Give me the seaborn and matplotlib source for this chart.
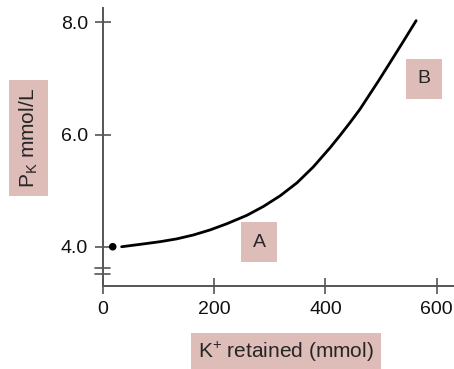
import matplotlib
matplotlib.use("Agg")
import matplotlib.pyplot as plt
import seaborn as sns
import pandas as pd

# values
k_retained = [34, 73, 103, 133, 163, 193, 223, 259, 289, 319, 349, 378,
              408, 426, 444, 462, 495, 516, 540, 563]
p_k = [4.00, 4.05, 4.09, 4.14, 4.21, 4.30, 4.41, 4.56, 4.72, 4.91, 5.14, 5.42,
       5.76, 5.98, 6.21, 6.45, 6.95, 7.28, 7.66, 8.03]
start_x = [18]
start_y = [4.0]
x_ticks = [0, 200, 400, 600]
y_ticks = [4.0, 6.0, 8.0]
y_tick_labels = ["4.0", "6.0", "8.0"]
break_y = [3.615, 3.513]
region_labels = ["A", "B"]
region_x = [281, 577]
region_y = [4.08, 6.99]

pink = "#DEBCB8"
axis_grey = "#555555"

sns.set_style("ticks")
plt.rcParams['font.family'] = ['Liberation Sans', 'DejaVu Sans']
plt.rcParams['mathtext.default'] = 'regular'

curve = pd.DataFrame({"k": k_retained, "pk": p_k})
start = pd.DataFrame({"k": start_x, "pk": start_y})

fig = plt.figure(figsize=(4.54, 3.69), dpi=100)
ax = fig.add_axes([0.2262, 0.2249, 0.7738, 0.7526])

sns.lineplot(data=curve, x="k", y="pk", ax=ax, color="black", linewidth=2.0)
sns.scatterplot(data=start, x="k", y="pk", ax=ax, color="black", s=30, edgecolor="none")

ax.set_xlim(0, 631)
ax.set_ylim(3.30, 8.25)
ax.set_xticks(x_ticks)
ax.set_yticks(y_ticks)
ax.set_yticklabels(y_tick_labels)

sns.despine(ax=ax)
for side in ["left", "bottom"]:
    ax.spines[side].set_color(axis_grey)
    ax.spines[side].set_linewidth(1.4)
ax.tick_params(direction="inout", length=11, width=1.2, color=axis_grey,
               labelsize=14, labelcolor="#111111", pad=5)

# axis break marks on the y spine
tr = ax.get_yaxis_transform()
for yb in break_y:
    ax.plot([-0.022, 0.022], [yb, yb], transform=tr, color=axis_grey,
            linewidth=1.2, clip_on=False)

ax.set_xlabel("K$^{+}$ retained (mmol)", fontsize=15,
              bbox=dict(boxstyle="square,pad=0.35", fc=pink, ec="none"))
ax.xaxis.label.set_va("center")
ax.xaxis.set_label_coords(0.522, -0.238)

ax.set_ylabel("P$_{K}$ mmol/L", fontsize=15,
              bbox=dict(boxstyle="square,pad=0.4", fc=pink, ec="none"))
ax.yaxis.label.set_va("center")
ax.yaxis.set_label_coords(-0.21, 0.533)

for lab, lx, ly in zip(region_labels, region_x, region_y):
    ax.text(lx, ly, lab, fontsize=14, ha="center", va="center",
            bbox=dict(boxstyle="square,pad=0.6", fc=pink, ec="none"))

fig.savefig("out.png", dpi=100)
